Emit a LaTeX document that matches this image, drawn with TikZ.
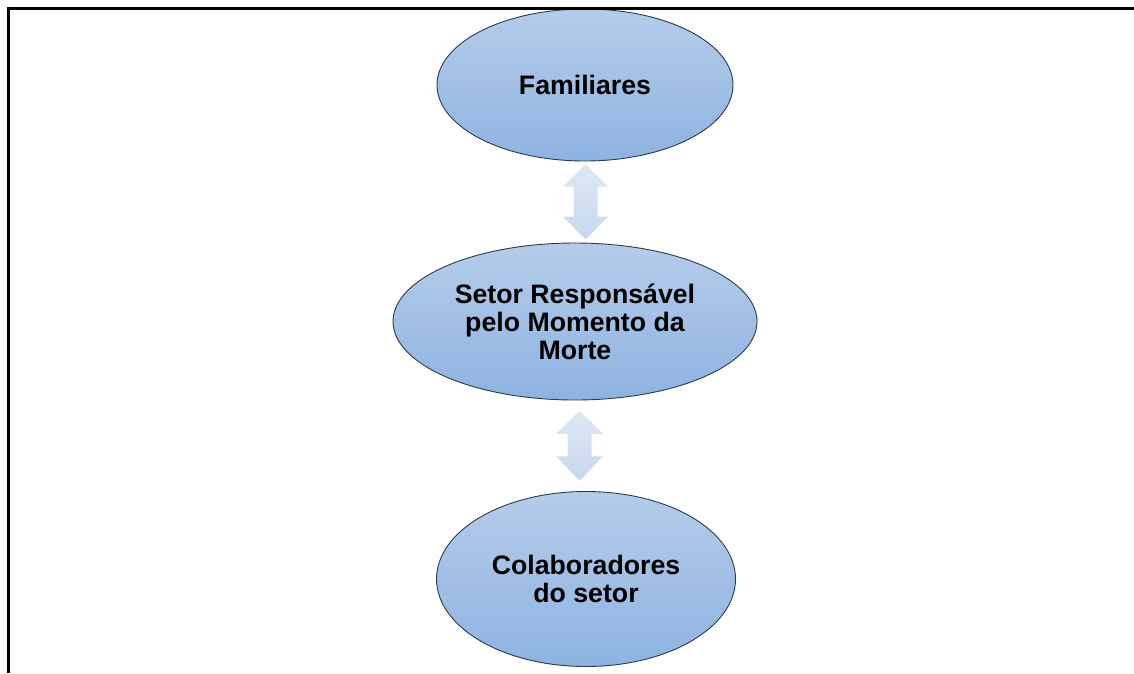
\documentclass[tikz,border=0pt]{standalone}
\usepackage{fontspec}
\setmainfont{Liberation Sans}
\usetikzlibrary{shapes.geometric,calc}
\definecolor{elltop}{HTML}{B5CCEA}
\definecolor{ellbot}{HTML}{8EB3E1}
\definecolor{ellline}{HTML}{2B3A4E}
\definecolor{arrtop}{HTML}{DEE8F5}
\definecolor{arrbot}{HTML}{C7D7EE}
\tikzset{
  ell/.style={ellipse, draw=ellline, line width=0.9pt, top color=elltop, bottom color=ellbot,
    inner sep=0pt, align=center, font=\bfseries\fontsize{26.7}{28}\selectfont},
  blockarrow/.style={top color=arrtop, bottom color=arrbot, draw=none}
}
\begin{document}
\begin{tikzpicture}[x=1pt,y=-1pt]
\useasboundingbox (0,0) rectangle (1134,673);
\node[ell, minimum width=296pt, minimum height=152pt] (fam) at (585,85) {Familiares};
\node[ell, minimum width=364pt, minimum height=157pt] (set) at (575,321.5) {Setor Responsável\\pelo Momento da\\Morte};
\node[ell, minimum width=299pt, minimum height=175pt] (col) at (586,579) {Colaboradores\\do setor};
\coordinate (a1) at ($(fam.south)!0.5!(set.north)+(5.5,0)$);
\coordinate (a2) at ($(set.south)!0.5!(col.north)+(-1,0)$);
\begin{scope}[shift={(a1)}]
\shade[blockarrow] (0,-37.5) -- (22.5,-15.5) -- (12,-15.5) -- (12,14.5) -- (22.5,14.5) -- (0,37.5)
  -- (-22.5,14.5) -- (-12,14.5) -- (-12,-15.5) -- (-22.5,-15.5) -- cycle;
\end{scope}
\begin{scope}[shift={(a2)}]
\shade[blockarrow] (0,-35) -- (23.5,-12) -- (12,-12) -- (12,10.5) -- (23.5,10.5) -- (0,35)
  -- (-23.5,10.5) -- (-12,10.5) -- (-12,-12) -- (-23.5,-12) -- cycle;
\end{scope}
\draw[line width=3pt] (1134,8.5) -- (8.5,8.5) -- (8.5,673);
\end{tikzpicture}
\end{document}
